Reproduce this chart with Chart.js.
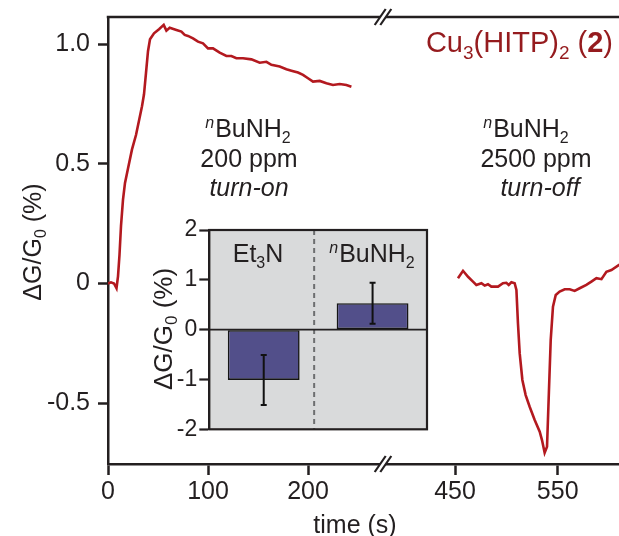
<!DOCTYPE html>
<html><head><meta charset="utf-8">
<script src="https://cdn.jsdelivr.net/npm/chart.js@4.4.0/dist/chart.umd.min.js"></script>
<style>
html,body{margin:0;padding:0;background:#fff;}
#wrap{position:relative;width:619px;height:536px;overflow:hidden;background:#fff;}
#main{position:absolute;left:0;top:0;}
#inset{position:absolute;left:140px;top:215px;}
</style></head><body>
<div id="wrap">
<canvas id="main" width="619" height="536"></canvas>
<canvas id="inset" width="300" height="225"></canvas>
</div>
<script>
// ---------- data ----------
const timeOn = [0, 3, 6, 8.5, 10, 11.5, 13, 15, 17, 20, 24, 28, 31.5, 34, 36, 38, 40, 42, 46, 51, 55.7, 58.4, 61.7, 68.4, 73.4, 76.7, 80, 85, 90, 95, 100, 105, 111.7, 118.4, 123.4, 128.4, 135, 143.4, 151.7, 158.4, 163.4, 171.7, 178.4, 183.4, 190, 195, 200, 205, 211.7, 218.4, 225, 231.7, 238.4, 243.4];
const responseOn = [0, 0.005, 0, -0.02, 0.03, 0.12, 0.24, 0.35, 0.42, 0.48, 0.56, 0.62, 0.69, 0.74, 0.79, 0.88, 0.97, 1.02, 1.045, 1.062, 1.08, 1.056, 1.068, 1.059, 1.052, 1.038, 1.034, 1.024, 1.01, 1.003, 0.982, 0.982, 0.964, 0.95, 0.95, 0.941, 0.941, 0.936, 0.922, 0.926, 0.913, 0.906, 0.895, 0.889, 0.881, 0.871, 0.857, 0.843, 0.846, 0.836, 0.829, 0.833, 0.829, 0.822];
const timeOff = [452.9, 457.8, 462.7, 467.5, 470.8, 475.7, 478.9, 482.1, 485.4, 491.9, 496.7, 500, 502.3, 504.9, 508.1, 509.8, 511.3, 513, 515.6, 518.8, 522.7, 527.6, 532.5, 534.7, 537.3, 539.6, 541.5, 543.2, 545.4, 548.1, 551.9, 556.8, 561.7, 566.5, 571.4, 577.9, 582.8, 587.7, 592.6, 597.4, 602.3, 609.4, 613];
const responseOff = [0.022, 0.053, 0.028, 0.008, -0.006, 0.001, -0.009, -0.003, -0.013, -0.013, 0.001, 0.003, -0.006, 0.005, 0.001, -0.027, -0.166, -0.292, -0.403, -0.466, -0.515, -0.570, -0.619, -0.654, -0.707, -0.682, -0.445, -0.236, -0.097, -0.048, -0.034, -0.024, -0.024, -0.031, -0.020, -0.006, 0.008, 0.022, 0.018, 0.049, 0.056, 0.077, 0.085];
const xTickValues = [0, 100, 200, 450, 550];
const yTickValues = [-0.5, 0, 0.5, 1.0];
const insetCategories = ['Et3N', 'nBuNH2'];
const insetValues = [-1.01, 0.53];
const insetErrors = [0.5, 0.41];
const insetTicks = [-2, -1, 0, 1, 2];

// ---------- broken time axis ----------
const BREAK_LEFT_END = 276, RIGHT_START = 450, RIGHT_U0 = 347, RIGHT_SCALE = 1.027, BREAK_U = 275;
function toU(t){ return t <= BREAK_LEFT_END ? t : RIGHT_U0 + (t - RIGHT_START) * RIGHT_SCALE; }

// ---------- styles ----------
const FONT = "'Liberation Sans', Arial, Helvetica, sans-serif";
const INK = '#231f20';
const LINE = '#b3191f';
const TITLE_RED = '#951b1e';
Chart.defaults.font.family = FONT;
Chart.defaults.color = INK;

function fontOf(p){ return [p.style, p.weight, p.size + 'px', FONT].filter(Boolean).join(' '); }
function drawRich(ctx, parts, x, y, align, color, rot){
  ctx.save();
  ctx.translate(x, y);
  if (rot) ctx.rotate(rot);
  let w = 0;
  for (const p of parts){ ctx.font = fontOf(p); w += ctx.measureText(p.t).width + (p.gap || 0); }
  let cx = align === 'center' ? -w / 2 : (align === 'right' ? -w : 0);
  ctx.fillStyle = color; ctx.textBaseline = 'alphabetic'; ctx.textAlign = 'left';
  for (const p of parts){ ctx.font = fontOf(p); ctx.fillText(p.t, cx, p.dy || 0); cx += ctx.measureText(p.t).width + (p.gap || 0); }
  ctx.restore();
}
const dgTitle = (s, sub) => [{t:'\u0394G/G', size:s}, {t:'0', size:sub, dy:5}, {t:' (%)', size:s}];
const nBu = (s, sub) => [{t:'n', size:sub, style:'italic', dy:-9, gap:1}, {t:'BuNH', size:s}, {t:'2', size:sub, dy:6}];

// ---------- main chart ----------
const mainDecor = {
  id: 'mainDecor',
  afterDraw(chart){
    const ctx = chart.ctx, a = chart.chartArea, xs = chart.scales.x;
    ctx.save();
    ctx.strokeStyle = INK; ctx.lineWidth = 2.5;
    ctx.beginPath(); ctx.moveTo(a.left - 1.25, a.top); ctx.lineTo(a.right, a.top); ctx.stroke();
    const bx = xs.getPixelForValue(BREAK_U);
    for (const y of [a.top, a.bottom]){
      ctx.fillStyle = '#fff';
      ctx.beginPath();
      ctx.moveTo(bx - 2.5 - 5, y + 7.5); ctx.lineTo(bx + 2.5 - 5, y + 7.5);
      ctx.lineTo(bx + 2.5 + 5, y - 7.5); ctx.lineTo(bx - 2.5 + 5, y - 7.5); ctx.closePath(); ctx.fill();
      ctx.lineWidth = 2.2;
      for (const o of [-2.8, 2.8]){
        ctx.beginPath(); ctx.moveTo(bx + o - 5.5, y + 8); ctx.lineTo(bx + o + 5.5, y - 8); ctx.stroke();
      }
    }
    ctx.restore();
    drawRich(ctx, dgTitle(25, 16), 41, 242, 'center', INK, -Math.PI / 2);
    drawRich(ctx, [{t:'time (s)', size:25}], 355, 533, 'center', INK);
    drawRich(ctx, [{t:'Cu', size:29}, {t:'3', size:19, dy:7}, {t:'(HITP)', size:29}, {t:'2', size:19, dy:7},
                   {t:' (', size:29}, {t:'2', size:29, weight:'bold'}, {t:')', size:29}], 613, 52, 'right', TITLE_RED);
    drawRich(ctx, nBu(25, 16), 248, 137, 'center', INK);
    drawRich(ctx, [{t:'200 ppm', size:25}], 249, 167, 'center', INK);
    drawRich(ctx, [{t:'turn-on', size:25, style:'italic'}], 249, 196, 'center', INK);
    drawRich(ctx, nBu(25, 16), 526, 137, 'center', INK);
    drawRich(ctx, [{t:'2500 ppm', size:25}], 536, 167, 'center', INK);
    drawRich(ctx, [{t:'turn-off', size:25, style:'italic'}], 540, 196, 'center', INK);
  }
};

new Chart(document.getElementById('main'), {
  type: 'line',
  data: {
    datasets: [
      {data: timeOn.map((t, i) => ({x: toU(t), y: responseOn[i]})), borderColor: LINE, borderWidth: 2.6, pointRadius: 0, tension: 0},
      {data: timeOff.map((t, i) => ({x: toU(t), y: responseOff[i]})), borderColor: LINE, borderWidth: 2.6, pointRadius: 0, tension: 0}
    ]
  },
  options: {
    responsive: false, animation: false, devicePixelRatio: 1,
    layout: {padding: {top: 17, left: 0, right: 0, bottom: 0}},
    plugins: {legend: {display: false}, tooltip: {enabled: false}},
    scales: {
      x: {
        type: 'linear', min: 0, max: 511,
        afterBuildTicks: s => { s.ticks = xTickValues.map(t => ({value: toU(t)})); },
        afterFit: s => { s.height = 72; s.paddingLeft = 0; s.paddingRight = 0; },
        ticks: {padding: 2, maxRotation: 0, autoSkip: false, color: INK, font: {size: 25},
                callback: (v, i) => String(xTickValues[i])},
        grid: {drawOnChartArea: false, tickLength: 11, tickWidth: 2.5, color: INK},
        border: {display: true, width: 2.5, color: INK}
      },
      y: {
        min: -0.754, max: 1.113,
        afterBuildTicks: s => { s.ticks = yTickValues.map(v => ({value: v})); },
        afterFit: s => { s.width = 108; s.paddingTop = 0; s.paddingBottom = 0; },
        ticks: {padding: 8, color: INK, font: {size: 25}, callback: v => (v === 0 ? '0' : v.toFixed(1))},
        grid: {drawOnChartArea: false, tickLength: 10, tickWidth: 2.5, color: INK},
        border: {display: true, width: 2.5, color: INK}
      }
    }
  },
  plugins: [mainDecor]
});

// ---------- inset ----------
const insetDecor = {
  id: 'insetDecor',
  beforeDatasetsDraw(chart){
    const ctx = chart.ctx, a = chart.chartArea, xs = chart.scales.x, ys = chart.scales.y;
    ctx.save();
    ctx.fillStyle = '#d9dadb';
    ctx.fillRect(a.left, a.top, a.right - a.left, a.bottom - a.top);
    const mx = (xs.getPixelForValue(0) + xs.getPixelForValue(1)) / 2 - 4;
    ctx.strokeStyle = '#6d6e70'; ctx.lineWidth = 2; ctx.setLineDash([5, 4]);
    ctx.beginPath(); ctx.moveTo(mx, a.top); ctx.lineTo(mx, a.bottom); ctx.stroke();
    ctx.setLineDash([]);
    const y0 = ys.getPixelForValue(0);
    ctx.strokeStyle = INK; ctx.lineWidth = 1.8;
    ctx.beginPath(); ctx.moveTo(a.left, y0); ctx.lineTo(a.right, y0); ctx.stroke();
    ctx.restore();
  },
  afterDraw(chart){
    const ctx = chart.ctx, a = chart.chartArea, ys = chart.scales.y;
    const meta = chart.getDatasetMeta(0);
    ctx.save();
    ctx.strokeStyle = '#111'; ctx.lineWidth = 2;
    meta.data.forEach((bar, i) => {
      const hi = ys.getPixelForValue(insetValues[i] + insetErrors[i]);
      const lo = ys.getPixelForValue(insetValues[i] - insetErrors[i]);
      ctx.beginPath();
      ctx.moveTo(bar.x, hi); ctx.lineTo(bar.x, lo);
      ctx.moveTo(bar.x - 3, hi); ctx.lineTo(bar.x + 3, hi);
      ctx.moveTo(bar.x - 3, lo); ctx.lineTo(bar.x + 3, lo);
      ctx.stroke();
    });
    ctx.strokeStyle = INK; ctx.lineWidth = 2.2;
    ctx.strokeRect(a.left, a.top, a.right - a.left, a.bottom - a.top);
    ctx.restore();
    drawRich(ctx, [{t:'Et', size:25}, {t:'3', size:16, dy:6}, {t:'N', size:25}], 118, 47, 'center', INK);
    drawRich(ctx, nBu(25, 16), 232, 47, 'center', INK);
    drawRich(ctx, dgTitle(26, 17), 32, 114, 'center', INK, -Math.PI / 2);
  }
};

new Chart(document.getElementById('inset'), {
  type: 'bar',
  data: {
    labels: insetCategories,
    datasets: [{data: insetValues, backgroundColor: '#524f8a', borderColor: '#151515', borderWidth: 1.6,
                borderSkipped: false, barPercentage: 0.66, categoryPercentage: 1}]
  },
  options: {
    responsive: false, animation: false, devicePixelRatio: 1,
    layout: {padding: {top: 15, right: 13, bottom: 10.7, left: 0}},
    plugins: {legend: {display: false}, tooltip: {enabled: false}},
    scales: {
      x: {display: false, offset: true},
      y: {
        min: -2, max: 2,
        afterBuildTicks: s => { s.ticks = insetTicks.map(v => ({value: v})); },
        afterFit: s => { s.width = 69.3; s.paddingTop = 0; s.paddingBottom = 0; },
        ticks: {padding: 2, color: INK, font: {size: 23}},
        grid: {drawOnChartArea: false, tickLength: 10, tickWidth: 2.2, color: INK},
        border: {display: true, width: 2.2, color: INK}
      }
    }
  },
  plugins: [insetDecor]
});
</script>
</body></html>
